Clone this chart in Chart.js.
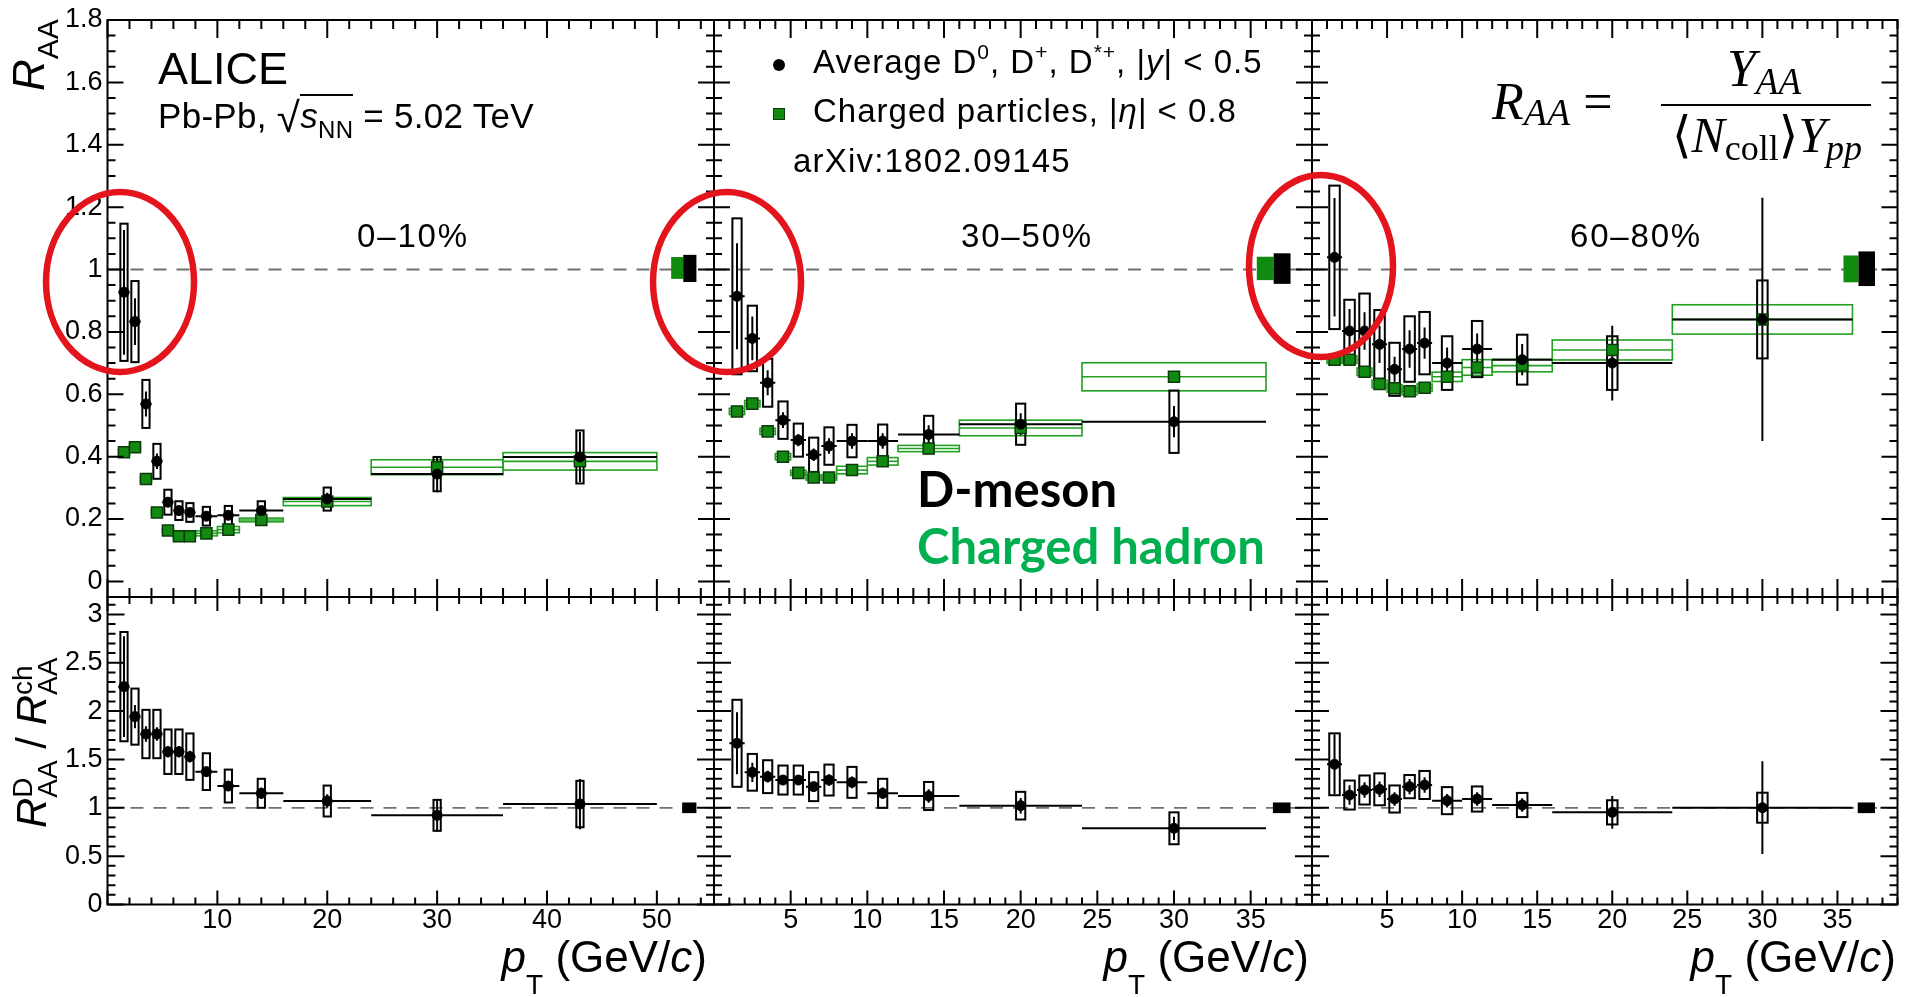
<!DOCTYPE html>
<html>
<head>
<meta charset="utf-8">
<title>ALICE D-meson and charged-particle R_AA</title>
<script src="https://cdn.jsdelivr.net/npm/chart.js@4.4.1/dist/chart.umd.min.js"></script>
<style>
    html, body { margin: 0; padding: 0; background: #fff; }
    #page { position: relative; width: 1905px; height: 997px; overflow: hidden; color: #000;
            font-family: "Liberation Sans", Arial, Helvetica, sans-serif; }
    #page canvas { position: absolute; left: 0; top: 0; }
    .txt { position: absolute; white-space: nowrap; line-height: 1.2; }
    .it { font-style: italic; }
    .sub, .sup { position: relative; }
    .sup { top: -14px; font-size: 21px; }
    .serif { font-family: "Liberation Serif", "DejaVu Serif", "DejaVu Sans", serif; }
    .bold { font-family: Lato, "Open Sans", sans-serif; font-weight: 700; }
    .ss { display: inline-block; vertical-align: -11px; line-height: 25px; font-size: 28px; font-style: normal; }
    .ss span { display: block; }
</style>
</head>
<body>
<div id="page">
    <canvas id="c00" width="1905" height="997"></canvas>
    <canvas id="c01" width="1905" height="997"></canvas>
    <canvas id="c02" width="1905" height="997"></canvas>
    <canvas id="c10" width="1905" height="997"></canvas>
    <canvas id="c11" width="1905" height="997"></canvas>
    <canvas id="c12" width="1905" height="997"></canvas>

    <div class="txt" id="tAlice" style="font-size:45px">ALICE</div>
    <div class="txt" id="tSys" style="font-size:35px;letter-spacing:0.3px">Pb-Pb, <span style="font-size:42px;position:relative;top:4px">√</span><span style="border-top:2px solid #000"><span class="it">s</span><span class="sub" style="font-size:24px;top:10px">NN</span></span> = 5.02 TeV</div>
    <div class="txt" id="tCent0" style="font-size:33px;letter-spacing:1.8px">0–10%</div>
    <div class="txt" id="tCent1" style="font-size:33px;letter-spacing:1.8px">30–50%</div>
    <div class="txt" id="tCent2" style="font-size:33px;letter-spacing:1.8px">60–80%</div>

    <div id="legDot" style="position:absolute;left:773px;top:59px;width:12px;height:12px;border-radius:50%;background:#000"></div>
    <div id="legSq" style="position:absolute;left:773px;top:108px;width:12px;height:12px;background:#128a12;border:1px solid #0b3b0b;box-sizing:border-box"></div>
    <div class="txt" id="tLeg1" style="font-size:33px;letter-spacing:1px">Average D<span class="sup">0</span>, D<span class="sup">+</span>, D<span class="sup">*+</span>, |<span class="it">y</span>| &lt; 0.5</div>
    <div class="txt" id="tLeg2" style="font-size:33px;letter-spacing:1px">Charged particles, |<span class="it">η</span>| &lt; 0.8</div>
    <div class="txt" id="tArxiv" style="font-size:33px;letter-spacing:1.2px">arXiv:1802.09145</div>

    <div class="txt bold" id="tDmes" style="font-size:49px">D-meson</div>
    <div class="txt bold" id="tChh" style="font-size:49px;color:#00b050">Charged hadron</div>

    <div class="txt serif" id="tRaaL" style="font-size:52px"><span class="it">R</span><span class="sub it" style="font-size:38px;top:6px">AA</span> = </div>
    <div class="txt serif" id="tNum" style="font-size:52px"><span class="it">Y</span><span class="sub it" style="font-size:37px;top:8px">AA</span></div>
    <div id="fracBar" style="position:absolute;left:1661px;top:104px;width:210px;height:2px;background:#000"></div>
    <div class="txt serif" id="tDen" style="font-size:50px">⟨<span class="it">N</span><span class="sub" style="font-size:36px;top:8px">coll</span>⟩<span class="it">Y</span><span class="sub it" style="font-size:36px;top:8px">pp</span></div>

    <div class="txt" id="tYTop" style="font-size:44px"><span class="it">R</span><span class="sub" style="font-size:30px;top:14px">AA</span></div>
    <div class="txt" id="tYBot" style="font-size:42px"><span class="it">R</span><span class="ss"><span>D</span><span>AA</span></span> / <span class="it">R</span><span class="ss"><span>ch</span><span>AA</span></span></div>

    <div class="txt" id="tPt0" style="font-size:44px"><span class="it">p</span><span class="sub" style="font-size:28px;top:22px">T</span> (GeV/<span class="it">c</span>)</div>
    <div class="txt" id="tPt1" style="font-size:44px"><span class="it">p</span><span class="sub" style="font-size:28px;top:22px">T</span> (GeV/<span class="it">c</span>)</div>
    <div class="txt" id="tPt2" style="font-size:44px"><span class="it">p</span><span class="sub" style="font-size:28px;top:22px">T</span> (GeV/<span class="it">c</span>)</div>
</div>

<script>
// DATA

// D-meson pT bins (GeV/c)
const binCenter = [1.5, 2.5, 3.5, 4.5, 5.5, 6.5, 7.5, 9, 11, 14, 20, 30, 43];
const binLow    = [1, 2, 3, 4, 5, 6, 7, 8, 10, 12, 16, 24, 36];
const binHigh   = [2, 3, 4, 5, 6, 7, 8, 10, 12, 16, 24, 36, 50];

// 0-10%
const raaD010     = [0.927, 0.833, 0.569, 0.385, 0.254, 0.227, 0.221, 0.209, 0.212, 0.227, 0.264, 0.344, 0.399];
const raaD010Stat = [0.20, 0.075, 0.04, 0.025, 0.015, 0.015, 0.015, 0.015, 0.015, 0.015, 0.02, 0.058, 0.08];
const raaD010Sys  = [0.22, 0.13, 0.077, 0.056, 0.04, 0.03, 0.03, 0.03, 0.03, 0.03, 0.037, 0.055, 0.085];
const raaCh010    = [0.414, 0.43, 0.328, 0.221, 0.163, 0.145, 0.145, 0.154, 0.166, 0.197, 0.256, 0.366, 0.385];
const raaCh010Sys = [0.01, 0.01, 0.01, 0.008, 0.006, 0.006, 0.006, 0.008, 0.01, 0.006, 0.013, 0.024, 0.028];
const ratio010     = [2.253, 1.943, 1.763, 1.763, 1.58, 1.58, 1.529, 1.374, 1.225, 1.15, 1.07, 0.922, 1.039];
const ratio010Stat = [0.52, 0.12, 0.08, 0.07, 0.06, 0.06, 0.06, 0.05, 0.05, 0.06, 0.07, 0.17, 0.26];
const ratio010Sys  = [0.565, 0.29, 0.25, 0.25, 0.23, 0.23, 0.24, 0.19, 0.17, 0.15, 0.16, 0.16, 0.24];

// 30-50%
const raaD3050     = [0.914, 0.779, 0.637, 0.517, 0.453, 0.406, 0.434, 0.45, 0.45, 0.471, 0.504, 0.512];
const raaD3050Stat = [0.17, 0.07, 0.04, 0.025, 0.02, 0.02, 0.025, 0.025, 0.025, 0.03, 0.035, 0.05];
const raaD3050Sys  = [0.25, 0.105, 0.077, 0.06, 0.053, 0.055, 0.06, 0.052, 0.053, 0.06, 0.066, 0.10];
const raaCh3050    = [0.545, 0.57, 0.481, 0.40, 0.348, 0.333, 0.333, 0.357, 0.385, 0.426, 0.492, 0.656];
const raaCh3050Sys = [0.01, 0.01, 0.01, 0.01, 0.008, 0.008, 0.008, 0.012, 0.012, 0.01, 0.025, 0.045];
const ratio3050     = [1.667, 1.367, 1.322, 1.287, 1.287, 1.219, 1.287, 1.263, 1.15, 1.122, 1.022, 0.788];
const ratio3050Stat = [0.32, 0.10, 0.06, 0.05, 0.05, 0.05, 0.06, 0.06, 0.06, 0.07, 0.08, 0.12];
const ratio3050Sys  = [0.45, 0.19, 0.17, 0.15, 0.15, 0.15, 0.16, 0.16, 0.15, 0.145, 0.143, 0.165];

// 60-80%
const raaD6080     = [1.039, 0.803, 0.803, 0.76, 0.68, 0.745, 0.764, 0.70, 0.745, 0.711, 0.70, 0.84];
const raaD6080Stat = [0.19, 0.07, 0.06, 0.06, 0.04, 0.06, 0.05, 0.05, 0.05, 0.05, 0.12, 0.39];
const raaD6080Sys  = [0.23, 0.10, 0.12, 0.11, 0.085, 0.105, 0.10, 0.086, 0.09, 0.08, 0.086, 0.125];
const raaCh6080    = [0.711, 0.711, 0.672, 0.633, 0.619, 0.61, 0.621, 0.656, 0.686, 0.692, 0.742, 0.84];
const raaCh6080Sys = [0.012, 0.012, 0.012, 0.012, 0.012, 0.012, 0.012, 0.015, 0.025, 0.02, 0.032, 0.047];
const ratio6080     = [1.45, 1.132, 1.184, 1.191, 1.091, 1.219, 1.236, 1.074, 1.091, 1.029, 0.953, 1.001];
const ratio6080Stat = [0.31, 0.10, 0.08, 0.08, 0.07, 0.08, 0.08, 0.07, 0.07, 0.07, 0.17, 0.48];
const ratio6080Sys  = [0.32, 0.15, 0.15, 0.165, 0.14, 0.12, 0.145, 0.14, 0.13, 0.125, 0.125, 0.155];

// normalisation uncertainty boxes: [pT low, pT high, value low, value high]
const normCh010  = [51.3, 52.4, 0.97, 1.04];
const normD010   = [52.4, 53.6, 0.96, 1.047];
const normCh3050 = [35.4, 36.5, 0.966, 1.041];
const normD3050  = [36.5, 37.6, 0.954, 1.052];
const normCh6080 = [35.4, 36.4, 0.959, 1.045];
const normD6080  = [36.4, 37.5, 0.947, 1.058];
const normRatio010  = [52.3, 53.6, 0.945, 1.055];
const normRatio3050 = [36.45, 37.6, 0.945, 1.055];
const normRatio6080 = [36.35, 37.5, 0.945, 1.055];

// tick labels
const raaTicks   = [0, 0.2, 0.4, 0.6, 0.8, 1, 1.2, 1.4, 1.6, 1.8];
const ratioTicks = [0, 0.5, 1, 1.5, 2, 2.5, 3];
const ptTicks010 = [10, 20, 30, 40, 50];
const ptTicks    = [5, 10, 15, 20, 25, 30, 35];


// LAYOUT

const W = 1905, H = 997;
const SANS = '"Liberation Sans", Arial, Helvetica, sans-serif';
const Y_LABEL_W = 100;   // room for the y tick labels (first column)
const X_LABEL_H = 60;    // room for the x tick labels (bottom row)

const cols = [
    { left: 107.5, right: 714,    xMax: 55.2, xMajor: 10, xMinor: 2, xTicks: ptTicks010, boxHalf: 0.33 },
    { left: 714,   right: 1312,   xMax: 39,   xMajor: 5,  xMinor: 1, xTicks: ptTicks,    boxHalf: 0.3 },
    { left: 1312,  right: 1897.5, xMax: 39,   xMajor: 5,  xMinor: 1, xTicks: ptTicks,    boxHalf: 0.35 }
];
const rows = [
    { top: 20,  bottom: 597,   yMin: -0.05, yMax: 1.8,  yMajor: 0.2, yMinor: 0.05, yTicks: raaTicks,   xLen: [18, 9], yLen: [16, 8] },
    { top: 597, bottom: 904.5, yMin: 0,     yMax: 3.18, yMajor: 0.5, yMinor: 0.1,  yTicks: ratioTicks, xLen: [14, 7], yLen: [17, 8] }
];

const panels = [
    { canvas: 'c00', col: 0, row: 0, d: raaD010,  dStat: raaD010Stat,  dSys: raaD010Sys,  ch: raaCh010,  chSys: raaCh010Sys,  normD: normD010,  normCh: normCh010,  ring: { x: 1.14, y: 0.96, rx: 74, ry: 90 } },
    { canvas: 'c01', col: 1, row: 0, d: raaD3050, dStat: raaD3050Stat, dSys: raaD3050Sys, ch: raaCh3050, chSys: raaCh3050Sys, normD: normD3050, normCh: normCh3050, ring: { x: 0.85, y: 0.96, rx: 74, ry: 90 } },
    { canvas: 'c02', col: 2, row: 0, d: raaD6080, dStat: raaD6080Stat, dSys: raaD6080Sys, ch: raaCh6080, chSys: raaCh6080Sys, normD: normD6080, normCh: normCh6080, ring: { x: 0.6, y: 1.011, rx: 72, ry: 91 } },
    { canvas: 'c10', col: 0, row: 1, d: ratio010,  dStat: ratio010Stat,  dSys: ratio010Sys,  normD: normRatio010 },
    { canvas: 'c11', col: 1, row: 1, d: ratio3050, dStat: ratio3050Stat, dSys: ratio3050Sys, normD: normRatio3050 },
    { canvas: 'c12', col: 2, row: 1, d: ratio6080, dStat: ratio6080Stat, dSys: ratio6080Sys, normD: normRatio6080 }
];


// HELPERS

const tickVals = (min, max, step) => {
    const out = [];
    for (let k = Math.ceil(min / step - 1e-6); k * step <= max + 1e-6; k++) out.push(k * step);
    return out;
};
const isMultiple = (v, step) => Math.abs(v / step - Math.round(v / step)) < 1e-6;


// CUSTOM DRAWING (error bars, boxes, frame, ticks)

const overlay = (p, c, r) => ({
    id: 'overlay',
    beforeDatasetsDraw(chart) {
        const { ctx, chartArea: a, scales: { x, y } } = chart;
        const n = p.d.length;
        ctx.save();
        ctx.beginPath();
        ctx.rect(a.left, a.top, a.right - a.left, a.bottom - a.top);
        ctx.clip();

        // unity line
        const y1 = y.getPixelForValue(1);
        ctx.strokeStyle = '#707070';
        ctx.lineWidth = 1.8;
        ctx.setLineDash([13, 10]);
        ctx.beginPath(); ctx.moveTo(a.left, y1); ctx.lineTo(a.right, y1); ctx.stroke();
        ctx.setLineDash([]);

        // normalisation boxes
        const fillBox = (b, col) => {
            const x0 = x.getPixelForValue(b[0]), x1 = x.getPixelForValue(b[1]);
            const yt = y.getPixelForValue(b[3]), yb = y.getPixelForValue(b[2]);
            ctx.fillStyle = col;
            ctx.fillRect(x0, yt, x1 - x0, yb - yt);
        };
        if (p.normCh) fillBox(p.normCh, '#0f8c0f');
        fillBox(p.normD, '#000');

        // charged particles: syst boxes over the bin width
        if (p.ch) {
            ctx.strokeStyle = '#22a022';
            ctx.lineWidth = 1.6;
            for (let i = 0; i < n; i++) {
                const x0 = x.getPixelForValue(binLow[i]), x1 = x.getPixelForValue(binHigh[i]);
                const yc = y.getPixelForValue(p.ch[i]);
                const yt = y.getPixelForValue(p.ch[i] + p.chSys[i]), yb = y.getPixelForValue(p.ch[i] - p.chSys[i]);
                ctx.strokeRect(x0, yt, x1 - x0, yb - yt);
                ctx.beginPath(); ctx.moveTo(x0, yc); ctx.lineTo(x1, yc); ctx.stroke();
            }
        }

        // D mesons: syst boxes, stat bars, bin widths
        ctx.strokeStyle = '#000';
        ctx.lineWidth = 2;
        for (let i = 0; i < n; i++) {
            const xc = binCenter[i];
            const bx0 = x.getPixelForValue(xc - c.boxHalf), bx1 = x.getPixelForValue(xc + c.boxHalf);
            const yt = y.getPixelForValue(p.d[i] + p.dSys[i]), yb = y.getPixelForValue(p.d[i] - p.dSys[i]);
            ctx.strokeRect(bx0, yt, bx1 - bx0, yb - yt);
            const px = x.getPixelForValue(xc), py = y.getPixelForValue(p.d[i]);
            ctx.beginPath();
            ctx.moveTo(px, y.getPixelForValue(p.d[i] + p.dStat[i]));
            ctx.lineTo(px, y.getPixelForValue(p.d[i] - p.dStat[i]));
            ctx.moveTo(x.getPixelForValue(binLow[i]), py);
            ctx.lineTo(x.getPixelForValue(binHigh[i]), py);
            ctx.stroke();
        }
        ctx.restore();
    },

    afterDraw(chart) {
        const { ctx, chartArea: a, scales: { x, y } } = chart;
        ctx.save();
        ctx.strokeStyle = '#000';
        ctx.lineWidth = 2;
        ctx.strokeRect(a.left, a.top, a.right - a.left, a.bottom - a.top);

        ctx.beginPath();
        tickVals(0, c.xMax, c.xMinor).forEach(v => {
            const len = isMultiple(v, c.xMajor) ? r.xLen[0] : r.xLen[1];
            const px = x.getPixelForValue(v);
            ctx.moveTo(px, a.bottom); ctx.lineTo(px, a.bottom - len);
            ctx.moveTo(px, a.top);    ctx.lineTo(px, a.top + len);
        });
        tickVals(r.yMin, r.yMax, r.yMinor).forEach(v => {
            const len = isMultiple(v, r.yMajor) ? r.yLen[0] : r.yLen[1];
            const py = y.getPixelForValue(v);
            ctx.moveTo(a.left, py);  ctx.lineTo(a.left + len, py);
            ctx.moveTo(a.right, py); ctx.lineTo(a.right - len, py);
        });
        ctx.stroke();

        // red annotation rings
        if (p.ring) {
            ctx.strokeStyle = '#e3141b';
            ctx.lineWidth = 6.5;
            ctx.beginPath();
            ctx.ellipse(x.getPixelForValue(p.ring.x), y.getPixelForValue(p.ring.y), p.ring.rx, p.ring.ry, 0, 0, Math.PI * 2);
            ctx.stroke();
        }
        ctx.restore();
    }
});


// CHARTS

const buildPanel = (p) => {
    const c = cols[p.col], r = rows[p.row];
    const n = p.d.length;
    const centers = binCenter.slice(0, n);
    const yW = p.col === 0 ? Y_LABEL_W : 0;
    const xH = p.row === 1 ? X_LABEL_H : 0;
    const datasets = [{
        label: 'D mesons',
        data: centers.map((x, i) => ({ x, y: p.d[i] })),
        pointStyle: 'circle', pointRadius: 5,
        backgroundColor: '#000', borderColor: '#000', borderWidth: 1
    }];
    if (p.ch) {
        datasets.push({
            label: 'Charged particles',
            data: centers.map((x, i) => ({ x, y: p.ch[i] })),
            pointStyle: 'rect', pointRadius: 7.8,
            backgroundColor: '#128a12', borderColor: '#0b3b0b', borderWidth: 1.5
        });
    }
    const tickFont = { family: SANS, size: 27 };

    return new Chart(document.getElementById(p.canvas), {
        type: 'scatter',
        data: { datasets },
        options: {
            responsive: false,
            animation: false,
            events: [],
            layout: { autoPadding: false, padding: { left: c.left - yW, right: W - c.right, top: r.top, bottom: H - r.bottom - xH } },
            plugins: { legend: { display: false }, tooltip: { enabled: false } },
            scales: {
                x: {
                    type: 'linear', position: 'bottom', min: 0, max: c.xMax,
                    grid: { display: false, drawTicks: false }, border: { display: false },
                    ticks: { display: p.row === 1, color: '#000', font: tickFont, padding: 0, maxRotation: 0, autoSkip: false, callback: v => String(v) },
                    afterBuildTicks: s => { s.ticks = c.xTicks.map(v => ({ value: v })); },
                    afterFit: s => { s.height = xH; s.paddingLeft = 0; s.paddingRight = 0; s.paddingTop = 0; s.paddingBottom = 0; }
                },
                y: {
                    type: 'linear', position: 'left', min: r.yMin, max: r.yMax,
                    grid: { display: false, drawTicks: false }, border: { display: false },
                    ticks: { display: p.col === 0, color: '#000', font: tickFont, padding: 5, autoSkip: false, callback: v => String(+v.toFixed(2)) },
                    afterBuildTicks: s => { s.ticks = r.yTicks.map(v => ({ value: v })); },
                    afterFit: s => { s.width = yW; s.paddingLeft = 0; s.paddingRight = 0; s.paddingTop = 0; s.paddingBottom = 0; }
                }
            }
        },
        plugins: [overlay(p, c, r)]
    });
};

panels.forEach(buildPanel);


// TEXT PLACEMENT (x, baseline)

const place = (id, x, base, align, rotate) => {
    const el = document.getElementById(id);
    const mk = document.createElement('span');
    mk.style.cssText = 'display:inline-block;width:0;height:0;vertical-align:baseline';
    el.appendChild(mk);
    el.style.left = '0px';
    el.style.top = '0px';
    const rb = el.getBoundingClientRect(), mb = mk.getBoundingClientRect();
    const off = mb.top - rb.top, w = rb.width;
    if (rotate) {
        el.style.transformOrigin = `0px ${off}px`;
        el.style.transform = 'rotate(-90deg)';
        el.style.left = x + 'px';
        el.style.top = (base - off) + 'px';
        return;
    }
    const dx = align === 'center' ? w / 2 : align === 'right' ? w : 0;
    el.style.left = (x - dx) + 'px';
    el.style.top = (base - off) + 'px';
};

[
    ['tAlice', 158, 84, 'left'],
    ['tSys', 158, 128, 'left'],
    ['tCent0', 413, 247, 'center'],
    ['tCent1', 1027, 247, 'center'],
    ['tCent2', 1636, 247, 'center'],
    ['tLeg1', 813, 73, 'left'],
    ['tLeg2', 813, 122, 'left'],
    ['tArxiv', 793, 172, 'left'],
    ['tDmes', 917, 507, 'left'],
    ['tChh', 917, 564, 'left'],
    ['tRaaL', 1492, 119, 'left'],
    ['tNum', 1764, 86, 'center'],
    ['tDen', 1767, 152, 'center'],
    ['tPt0', 707, 972, 'right'],
    ['tPt1', 1309, 972, 'right'],
    ['tPt2', 1896, 972, 'right']
].forEach(t => place(...t));

place('tYTop', 43.5, 91, 'left', true);
place('tYBot', 46, 828, 'left', true);
</script>
</body>
</html>
